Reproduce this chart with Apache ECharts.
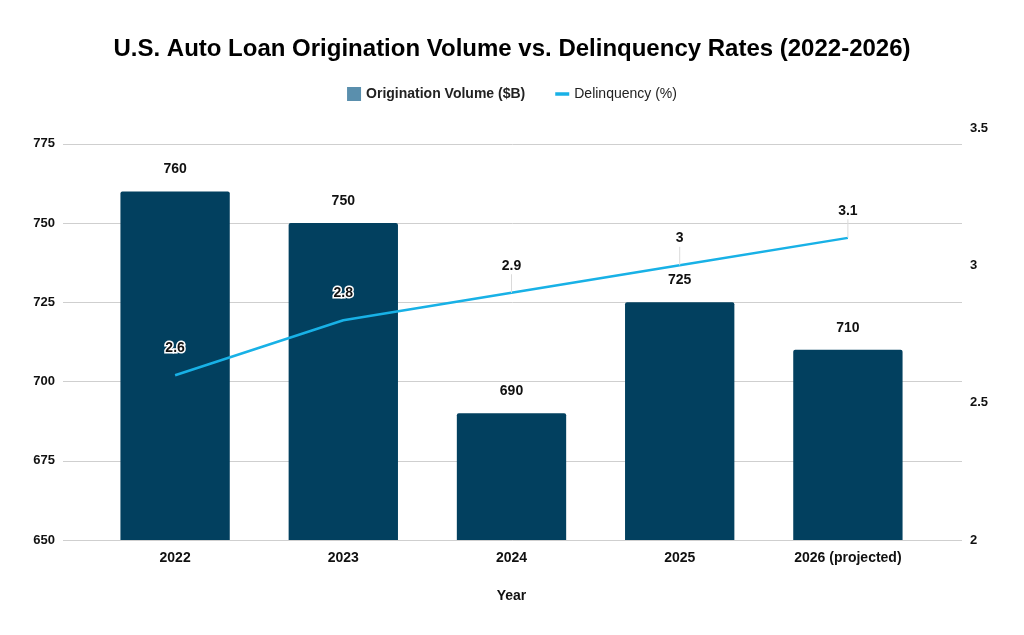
<!DOCTYPE html>
<html><head><meta charset="utf-8">
<script src="https://cdn.jsdelivr.net/npm/echarts@6/dist/echarts.min.js"></script>
<style>html,body{margin:0;padding:0;background:#fff}#c{width:1024px;height:635px}</style>
</head><body><div id="c"></div>
<script>
const categories = ['2022', '2023', '2024', '2025', '2026 (projected)'];
const originationVolume = [760, 750, 690, 725, 710];
const delinquency = [2.6, 2.8, 2.9, 3, 3.1];
const leftTicks = [650, 675, 700, 725, 750, 775];
const rightTicks = [2, 2.5, 3, 3.5];

const FONT = '"Liberation Sans", Arial, sans-serif';
const chart = echarts.init(document.getElementById('c'));
const leftMin = 650, leftMax = 780, rightMin = 2, rightMax = 3.5;

// leader lines are not visible where the label sits over a dark bar
const lineData = delinquency.map((v, i) => {
  const pct = (v - rightMin) / (rightMax - rightMin);
  const barPct = (originationVolume[i] - leftMin) / (leftMax - leftMin);
  return pct < barPct ? { value: v, labelLine: { show: false } } : { value: v };
});

chart.setOption({
  backgroundColor: '#fff',
  textStyle: { fontFamily: FONT },
  title: {
    text: 'U.S. Auto Loan Origination Volume vs. Delinquency Rates (2022-2026)',
    left: 'center', top: 32,
    textStyle: { fontFamily: FONT, fontWeight: 'bold', fontSize: 24, color: '#000' }
  },
  legend: {
    top: 82, left: 'center', itemGap: 30, itemWidth: 14, itemHeight: 14,
    data: [
      { name: 'Origination Volume ($B)', icon: 'rect', itemStyle: { color: '#5a8fad' }, textStyle: { fontWeight: 'bold' } },
      { name: 'Delinquency (%)', icon: 'path://M0,0 L16,0 L16,4 L0,4 Z', itemStyle: { color: '#18b1e6', opacity: 1 } }
    ],
    textStyle: { fontFamily: FONT, fontSize: 14, color: '#222' }
  },
  grid: [
    { left: 63, right: 62, top: 128, bottom: 95 },
    { left: 91, right: 92, top: 128, bottom: 95 }
  ],
  xAxis: [
    { type: 'value', gridIndex: 0, show: false, min: 0, max: 1 },
    {
      type: 'category', gridIndex: 1, data: categories,
      axisLine: { show: false }, axisTick: { show: false },
      axisLabel: { fontFamily: FONT, fontWeight: 'bold', fontSize: 14, color: '#111', margin: 11 },
      name: 'Year', nameLocation: 'middle', nameGap: 49,
      nameTextStyle: { fontFamily: FONT, fontWeight: 'bold', fontSize: 14, color: '#111' }
    }
  ],
  yAxis: [
    {
      type: 'value', gridIndex: 0, min: leftMin, max: leftMax, interval: 25,
      axisLine: { show: false }, axisTick: { show: false },
      splitLine: { show: true, showMaxLine: false, lineStyle: { color: '#cfcfcf', width: 1 } },
      axisLabel: {
        showMaxLabel: false, margin: 8,
        fontFamily: FONT, fontWeight: 'bold', fontSize: 13, color: '#111',
        formatter: v => leftTicks.includes(v) ? String(v) : ''
      }
    },
    {
      type: 'value', gridIndex: 0, position: 'right', min: rightMin, max: rightMax, interval: 0.5,
      axisLine: { show: false }, axisTick: { show: false }, splitLine: { show: false },
      axisLabel: {
        margin: 8, fontFamily: FONT, fontWeight: 'bold', fontSize: 13, color: '#111',
        formatter: v => rightTicks.includes(v) ? String(v) : ''
      }
    },
    { type: 'value', gridIndex: 1, min: leftMin, max: leftMax, show: false, splitLine: { show: false } },
    { type: 'value', gridIndex: 1, min: rightMin, max: rightMax, show: false, splitLine: { show: false } }
  ],
  series: [
    {
      name: 'Origination Volume ($B)', type: 'bar', xAxisIndex: 1, yAxisIndex: 2,
      data: originationVolume, barWidth: '65%',
      itemStyle: { color: '#02405f', borderRadius: [2, 2, 0, 0] },
      label: {
        show: true, position: 'top', distance: 15,
        fontFamily: FONT, fontWeight: 'bold', fontSize: 14, color: '#111'
      },
      z: 2
    },
    {
      name: 'Delinquency (%)', type: 'line', xAxisIndex: 1, yAxisIndex: 3,
      data: lineData, symbol: 'circle', symbolSize: 0.1, showSymbol: true,
      lineStyle: { color: '#18b1e6', width: 2.5 },
      itemStyle: { color: '#18b1e6' },
      label: {
        show: true, position: 'top', distance: 4,
        fontFamily: FONT, fontWeight: 'bold', fontSize: 14, color: '#111',
        textBorderColor: '#fff', textBorderWidth: 3
      },
      labelLayout: { dy: -16 },
      labelLine: { show: true, lineStyle: { color: '#dadada', width: 1 } },
      z: 3
    }
  ]
});
</script>
</body></html>
